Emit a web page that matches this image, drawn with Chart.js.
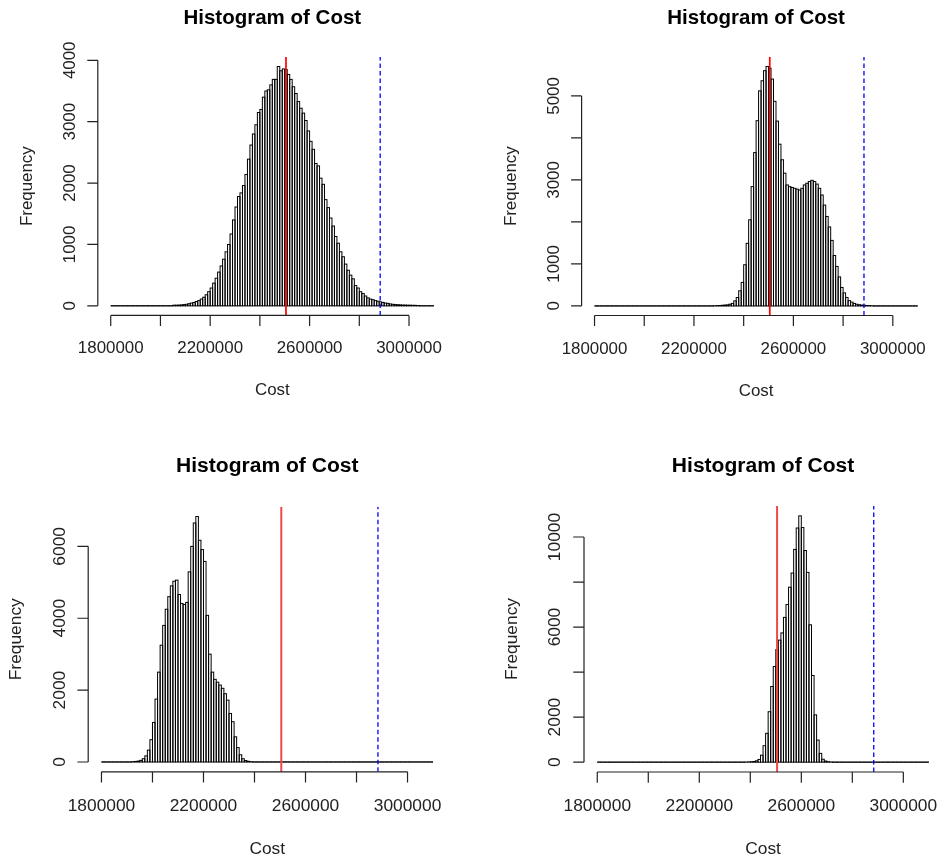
<!DOCTYPE html>
<html>
<head>
<meta charset="utf-8">
<script src="https://cdn.jsdelivr.net/npm/chart.js@4.4.1/dist/chart.umd.min.js"></script>
<style>
  html, body { margin: 0; padding: 0; background: #fff; overflow: hidden; }
  #wrap { position: relative; width: 940px; height: 861px; overflow: hidden; background: #fff; }
  #wrap canvas { position: absolute; }
</style>
</head>
<body>
<div id="wrap">
  <canvas id="h1" width="480" height="431" style="left:0px;top:0px"></canvas>
  <canvas id="h2" width="480" height="431" style="left:470px;top:0px"></canvas>
  <canvas id="h3" width="480" height="431" style="left:0px;top:430px"></canvas>
  <canvas id="h4" width="480" height="431" style="left:470px;top:430px"></canvas>
</div>
<script>
// histogram breaks: 10k wide bins from 1.8M to 3.1M
const BREAK_START = 1800000
const BREAK_END = 3100000
const BIN_WIDTH = 10000

const costTicks = [1800000, 2000000, 2200000, 2400000, 2600000, 2800000, 3000000]
const costLabels = [1800000, 2200000, 2600000, 3000000]

const budgetCost = 2505000   // solid red reference
const limitCost = 2884000    // dashed blue reference

// counts per bin, first entry is the bin starting at startN
const start1 = 2050000
const counts1 = [10, 10, 12, 15, 20, 25, 35, 45, 55, 70, 85, 110, 140, 180, 230, 290, 370, 450, 550, 650,
  760, 880, 1000, 1170, 1400, 1610, 1780, 1840, 1960, 2140, 2390, 2620, 2800, 2950, 3150, 3200, 3400, 3500, 3520, 3600,
  3690, 3690, 3900, 3830, 3860, 3850, 3770, 3690, 3570, 3460, 3330, 3220, 3140, 3020, 2850, 2680, 2550, 2320, 2280, 2080,
  1980, 1730, 1600, 1430, 1300, 1130, 1020, 880, 800, 680, 580, 500, 440, 330, 290, 230, 200, 160, 130, 110,
  100, 85, 75, 65, 55, 45, 40, 30, 25, 20, 18, 15, 12, 12, 10, 10, 8, 8, 5]
const freqTicks1 = [0, 1000, 2000, 3000, 4000]
const freqLabels1 = [0, 1000, 2000, 3000, 4000]

const start2 = 2280000
const counts2 = [5, 8, 10, 15, 20, 25, 40, 60, 120, 200, 360, 560, 980, 1490, 2050, 2840, 3650, 4410, 5120, 5360,
  5600, 5700, 5660, 5400, 4870, 4400, 3850, 3480, 3160, 2880, 2840, 2820, 2800, 2780, 2760, 2800, 2880, 2920, 2960, 2990,
  2960, 2900, 2800, 2640, 2400, 2130, 1880, 1560, 1200, 940, 690, 440, 310, 200, 125, 90, 60, 40, 28, 20,
  15, 10, 8, 5]
const freqTicks2 = [0, 1000, 2000, 3000, 4000, 5000]
const freqLabels2 = [0, 1000, 3000, 5000]

const start3 = 1920000
const counts3 = [10, 15, 25, 45, 90, 170, 330, 620, 1100, 1750, 2500, 3250, 3800, 4250, 4600, 4900, 5030, 5060, 4660, 4410,
  4380, 4440, 5290, 6000, 6650, 6830, 6170, 5910, 5580, 4080, 3000, 2500, 2300, 2220, 2140, 2050, 1900, 1720, 1350, 1120,
  700, 400, 200, 90, 40, 20, 10]
const freqTicks3 = [0, 2000, 4000, 6000]
const freqLabels3 = [0, 2000, 4000, 6000]

const start4 = 2380000
const counts4 = [5, 10, 20, 30, 60, 120, 310, 730, 1280, 2240, 3360, 4250, 5000, 5420, 5740, 6430, 7000, 7770, 8400, 9450,
  10400, 10940, 10420, 9400, 8430, 6100, 3850, 2100, 980, 390, 130, 50, 20, 10]
const freqTicks4 = [0, 2000, 4000, 6000, 8000, 10000]
const freqLabels4 = [0, 2000, 6000, 10000]

// plot regions on the page: [left, right, top, bottom], canvas origin, text scale
const panels = [
  { id: 'h1', start: start1, counts: counts1, yTicks: freqTicks1, yLabels: freqLabels1,
    plot: [97.8, 446.8, 56.9, 315.4], origin: [0, 0], s: 1, red: '#ff0000', redWidth: 1.7 },
  { id: 'h2', start: start2, counts: counts2, yTicks: freqTicks2, yLabels: freqLabels2,
    plot: [581.6, 930.6, 56.9, 315.5], origin: [470, 0], s: 1, red: '#ff0000', redWidth: 1.7 },
  { id: 'h3', start: start3, counts: counts3, yTicks: freqTicks3, yLabels: freqLabels3,
    plot: [88.2, 446.3, 506.7, 771.8], origin: [0, 430], s: 1.027, red: '#f04848', redWidth: 2 },
  { id: 'h4', start: start4, counts: counts4, yTicks: freqTicks4, yLabels: freqLabels4,
    plot: [584, 942.1, 506, 772], origin: [470, 430], s: 1.027, red: '#f04848', redWidth: 2 },
]

const FONT = "'Liberation Sans', Arial, sans-serif"

function histData(start, counts) {
  const out = []
  for (let b = BREAK_START; b < BREAK_END; b += BIN_WIDTH) {
    const i = Math.round((b - start) / BIN_WIDTH)
    out.push({ x: b + BIN_WIDTH / 2, y: counts[i] ?? 0 })
  }
  return out
}

// R style: outlined bins, axis lines only between first and last tick
const rStyle = {
  id: 'rStyle',
  afterDatasetDraw(chart, args) {
    if (args.meta.type !== 'bar') return
    const ctx = chart.ctx
    ctx.save()
    ctx.strokeStyle = '#000'
    ctx.lineWidth = 1
    for (const el of args.meta.data) {
      const { x, y, base, width } = el.getProps(['x', 'y', 'base', 'width'], true)
      ctx.strokeRect(x - width / 2, y, width, base - y)
    }
    ctx.restore()
  },
  afterDraw(chart, _args, opts) {
    const { ctx, chartArea: area } = chart
    const xs = chart.scales.x
    const ys = chart.scales.y
    const s = opts.s
    const tick = 10.5 * s
    ctx.save()
    ctx.strokeStyle = '#222'
    ctx.lineWidth = 1.2
    ctx.beginPath()
    ctx.moveTo(xs.getPixelForValue(costTicks[0]), area.bottom)
    ctx.lineTo(xs.getPixelForValue(costTicks[costTicks.length - 1]), area.bottom)
    for (const v of costTicks) {
      const px = xs.getPixelForValue(v)
      ctx.moveTo(px, area.bottom)
      ctx.lineTo(px, area.bottom + tick)
    }
    ctx.moveTo(area.left, ys.getPixelForValue(opts.yTicks[0]))
    ctx.lineTo(area.left, ys.getPixelForValue(opts.yTicks[opts.yTicks.length - 1]))
    for (const v of opts.yTicks) {
      const py = ys.getPixelForValue(v)
      ctx.moveTo(area.left, py)
      ctx.lineTo(area.left - tick, py)
    }
    ctx.stroke()

    ctx.fillStyle = '#222'
    ctx.font = `${16.9 * s}px ${FONT}`
    ctx.textAlign = 'center'
    ctx.textBaseline = 'alphabetic'
    for (const v of costLabels) {
      ctx.fillText(String(v), xs.getPixelForValue(v), area.bottom + 38 * s)
    }
    const midX = (area.left + area.right) / 2
    const midY = (area.top + area.bottom) / 2
    ctx.fillText('Cost', midX, area.bottom + 80 * s)

    for (const v of opts.yLabels) {
      ctx.save()
      ctx.translate(area.left - 23 * s, ys.getPixelForValue(v))
      ctx.rotate(-Math.PI / 2)
      ctx.fillText(String(v), 0, 0)
      ctx.restore()
    }
    ctx.save()
    ctx.translate(area.left - 65.5 * s, midY)
    ctx.rotate(-Math.PI / 2)
    ctx.fillText('Frequency', 0, 0)
    ctx.restore()

    ctx.fillStyle = '#000'
    ctx.font = `bold ${20.5 * s}px ${FONT}`
    ctx.fillText('Histogram of Cost', midX, area.top - 33.4 * s)
    ctx.restore()
  },
}

for (const p of panels) {
  const canvas = document.getElementById(p.id)
  const [L, R, T, B] = p.plot
  const [ox, oy] = p.origin
  const yTop = Math.max(...p.counts)
  const yMin = -0.04 * yTop
  const yMax = 1.04 * yTop
  const span = BREAK_END - BREAK_START

  new Chart(canvas, {
    type: 'bar',
    data: {
      datasets: [
        {
          type: 'line',
          data: [{ x: budgetCost, y: yMin }, { x: budgetCost, y: yMax }],
          borderColor: p.red,
          borderWidth: p.redWidth,
          pointRadius: 0,
          order: 0,
        },
        {
          type: 'line',
          data: [{ x: limitCost, y: yMin }, { x: limitCost, y: yMax }],
          borderColor: '#0000ff',
          borderWidth: 1.3,
          borderDash: [4.5, 3],
          pointRadius: 0,
          order: 0,
        },
        {
          type: 'bar',
          data: histData(p.start, p.counts),
          backgroundColor: 'rgba(0,0,0,0)',
          borderWidth: 0,
          categoryPercentage: 1,
          barPercentage: 1,
          order: 1,
        },
      ],
    },
    options: {
      responsive: false,
      animation: false,
      devicePixelRatio: 1,
      events: [],
      layout: {
        padding: {
          left: L - ox,
          top: T - oy,
          right: canvas.width - (R - ox),
          bottom: canvas.height - (B - oy),
        },
      },
      scales: {
        x: { type: 'linear', display: false, offset: false,
             min: BREAK_START - 0.04 * span, max: BREAK_END + 0.04 * span },
        y: { display: false, min: yMin, max: yMax },
      },
      plugins: {
        legend: { display: false },
        tooltip: { enabled: false },
        rStyle: { s: p.s, yTicks: p.yTicks, yLabels: p.yLabels },
      },
    },
    plugins: [rStyle],
  })
}
</script>
</body>
</html>
